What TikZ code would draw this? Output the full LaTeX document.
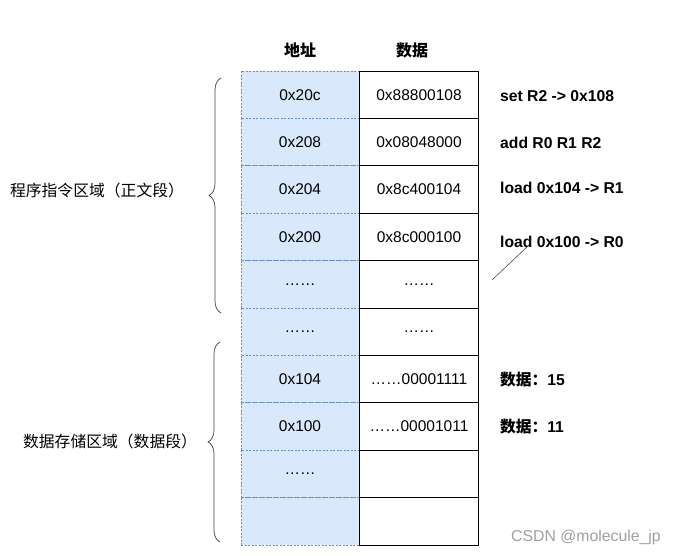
\documentclass[tikz,border=0pt]{standalone}
\usepackage{fontspec}
\setmainfont{Liberation Sans}
\newfontfamily\cjk{Noto Sans CJK SC}
\usetikzlibrary{decorations.pathreplacing}
\definecolor{addrfill}{HTML}{DAE8FC}
\definecolor{addrline}{HTML}{6C8EBF}
\definecolor{markgray}{HTML}{A0A0A0}
\tikzset{
 addr/.style={draw=addrline, fill=addrfill, dash pattern=on 2pt off 1.5pt, line width=.7pt, minimum width=118pt, minimum height=47.4pt, inner sep=0, font=\fontsize{15.5}{18}\selectfont},
 word/.style={draw=black, fill=white, line width=.8pt, minimum width=119pt, minimum height=47.4pt, inner sep=0, font=\fontsize{15.5}{18}\selectfont},
 head/.style={font=\fontsize{16}{18}\selectfont\bfseries, inner sep=0},
 note/.style={anchor=west, font=\fontsize{15.7}{18}\selectfont\bfseries, inner sep=0},
 area/.style={decorate, decoration={brace, amplitude=12pt}, draw=black!75, line width=.7pt},
 region/.style={font=\fontsize{15.8}{18}\selectfont\cjk, inner sep=0},
}

\begin{document}
\begin{tikzpicture}[x=1pt, y=-1pt]
\useasboundingbox (0,0) rectangle (677,556);
\node[head] (haddr) at (300,50) {\cjk 地址};
\node[head] (hword) at (412,50) {\cjk 数据};
\foreach \a [count=\i] in {0x20c,0x208,0x204,0x200,……,……,0x104,0x100,……,{}} {
 \node[addr] (a\i) at (300,{71+47.4*(\i-0.5)}) {\a};
}
\foreach \w [count=\i] in {0x88800108,0x08048000,0x8c400104,0x8c000100,……,……,……00001111,……00001011,{},{}} {
 \node[word] (d\i) at (419,{71+47.4*(\i-0.5)}) {\w};
}
\node[note] (i1) at (500,96) {set R2 -> 0x108};
\node[note] (i2) at (500,143) {add R0 R1 R2};
\node[note] (i3) at (500,188) {load 0x104 -> R1};
\node[note] (i4) at (500,242) {load 0x100 -> R0};
\node[note] (v1) at (500,380) {{\cjk 数据：}15};
\node[note] (v2) at (500,427) {{\cjk 数据：}11};
\coordinate (s1) at (492,280);
\coordinate (s2) at (528,246);
\draw[black!70, line width=.6pt] (s1) -- (s2);
\draw[area] (221,313) -- (221,78);
\draw[area] (220,542) -- (220,342);
\node[region] (code) at (97,190) {程序指令区域（正文段）};
\node[region] (data) at (110,441) {数据存储区域（数据段）};
\node[anchor=west, text=markgray, font=\fontsize{15.8}{18}\selectfont, inner sep=0] (mark) at (511,537) {CSDN @molecule\_jp};
\end{tikzpicture}
\end{document}
